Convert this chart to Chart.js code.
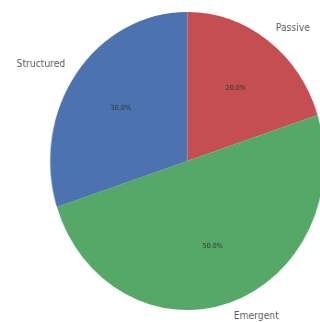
<!DOCTYPE html>
<html>
<head>
<meta charset="utf-8">
<script src="https://cdn.jsdelivr.net/npm/chart.js@4/dist/chart.umd.min.js"></script>
<style>
  html, body { margin: 0; padding: 0; background: #fff; overflow: hidden; width: 320px; height: 322px; }
  #wrap { position: absolute; left: 0; top: 0; width: 360px; height: 322px; transform-origin: 0 0; transform: scaleX(0.92); }
  canvas { display: block; }
</style>
</head>
<body>
<div id="wrap"><canvas id="c" width="360" height="322" style="width:360px;height:322px"></canvas></div>
<script>
const categories = ["Passive", "Emergent", "Structured"];
const shares = [20, 50, 30];
const sliceColors = ["#C44E52", "#55A868", "#4C72B0"];

const labelPlugin = {
  id: 'pieLabels',
  afterDatasetsDraw(chart) {
    const ctx = chart.ctx;
    const meta = chart.getDatasetMeta(0);
    const total = shares.reduce((a, b) => a + b, 0);
    meta.data.forEach((arc, i) => {
      const p = arc.getProps(['x', 'y', 'startAngle', 'endAngle', 'outerRadius'], true);
      const mid = (p.startAngle + p.endAngle) / 2;
      const cx = Math.cos(mid), cy = Math.sin(mid);
      ctx.save();
      ctx.textBaseline = 'middle';
      // outer category label
      ctx.font = '10px "DejaVu Sans"';
      ctx.fillStyle = '#5a5a5a';
      ctx.textAlign = cx >= 0 ? 'left' : 'right';
      ctx.fillText(categories[i], p.x + cx * p.outerRadius * 1.1, p.y + cy * p.outerRadius * 1.1);
      // percentage
      ctx.font = '7px "DejaVu Sans"';
      ctx.fillStyle = '#333333';
      ctx.textAlign = 'center';
      const pct = (shares[i] / total * 100).toFixed(1) + '%';
      ctx.fillText(pct, p.x + cx * p.outerRadius * 0.6, p.y + cy * p.outerRadius * 0.6);
      ctx.restore();
    });
  }
};

new Chart(document.getElementById('c'), {
  type: 'pie',
  data: {
    labels: categories,
    datasets: [{
      data: shares,
      backgroundColor: sliceColors,
      borderWidth: 0
    }]
  },
  options: {
    responsive: false,
    animation: false,
    layout: { padding: { left: 54.5, right: 7.5, top: 12, bottom: 12 } },
    plugins: {
      legend: { display: false },
      tooltip: { enabled: false }
    }
  },
  plugins: [labelPlugin]
});
</script>
</body>
</html>
